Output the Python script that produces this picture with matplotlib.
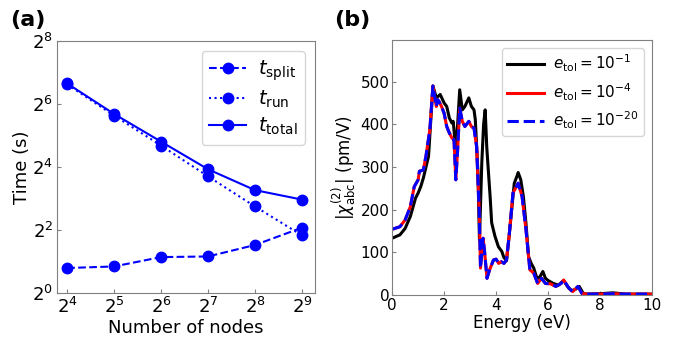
import matplotlib

matplotlib.use("Agg")
import matplotlib.pyplot as plt

# ---- panel (a): timing vs number of nodes ----
nodes = [16, 32, 64, 128, 256, 512]
t_split = [1.73, 1.79, 2.20, 2.23, 2.87, 4.20]
t_run = [98.5, 49.5, 25.6, 13.0, 6.7, 3.55]
t_total = [100.4, 51.3, 27.9, 15.2, 9.6, 7.8]
x_ticks = [4, 5, 6, 7, 8, 9]
y_ticks = [0, 2, 4, 6, 8]

# ---- panel (b): |chi2| spectra for three tolerances ----
e_black = [0.0, 0.3, 0.5, 0.7, 0.9, 1.0, 1.1, 1.2, 1.4, 1.57, 1.7, 1.85, 2.0, 2.1,
           2.2, 2.3, 2.35, 2.45, 2.52, 2.6, 2.7, 2.8, 2.95, 3.05, 3.15, 3.2, 3.3, 3.36,
           3.45, 3.52, 3.58, 3.64, 3.7, 3.77, 3.83, 3.96, 4.09, 4.22, 4.3, 4.4,
           4.5, 4.6, 4.7, 4.8, 4.85, 4.95, 5.05, 5.15, 5.25, 5.35, 5.45, 5.55, 5.65,
           5.8, 5.9, 6.0, 6.2, 6.4, 6.6, 6.75, 6.9, 7.05, 7.2, 7.35, 7.5, 8.0, 8.5,
           9.0, 10.0]
chi_black = [133, 141, 156, 184, 227, 239, 254, 274, 325, 490, 462, 470, 450, 442,
             415, 403, 407, 340, 400, 481, 434, 442, 462, 442, 434, 411, 290, 129,
             310, 400, 434, 348, 293, 231, 169, 137, 113, 102, 88, 80,
             137, 200, 262, 278, 287, 270, 231, 168, 90, 74, 63, 43, 39,
             55, 39, 34, 27, 23, 34, 20, 10, 13, 20, 4, 2, 3, 5,
             2, 2]

e_conv = [0.0, 0.3, 0.5, 0.7, 0.85, 1.0, 1.05, 1.2, 1.3, 1.45, 1.57, 1.7, 1.75, 1.8,
          1.9, 2.0, 2.1, 2.2, 2.3, 2.38, 2.45, 2.52, 2.6, 2.7, 2.8, 2.95, 3.05, 3.15,
          3.25, 3.35, 3.4, 3.5, 3.55, 3.65, 3.75, 3.9, 4.0, 4.1, 4.2, 4.3, 4.4, 4.5,
          4.65, 4.85, 5.0, 5.15, 5.3, 5.45, 5.6, 5.75, 5.9, 6.1, 6.3, 6.5, 6.6, 6.8,
          6.95, 7.15, 7.3, 7.5, 8.0, 8.5, 9.0, 10.0]
chi_conv = [154, 160, 176, 207, 254, 270, 290, 293, 325, 387, 490, 442, 458, 454,
            442, 426, 395, 380, 368, 364, 270, 340, 438, 407, 395, 407, 395, 391,
            348, 200, 63, 133, 106, 39, 59, 82, 84, 74, 78, 74, 82, 137,
            239, 262, 231, 153, 59, 51, 27, 39, 27, 26, 20, 27, 35, 16,
            8, 20, 4, 2, 2, 3, 2, 2]

_BLUE = "#0000ff"
_GRAY = "#808080"

fig = plt.figure(figsize=(6.82, 3.41), dpi=100)
ax1 = fig.add_axes([0.084, 0.141, 0.378, 0.739])
ax2 = fig.add_axes([0.575, 0.135, 0.381, 0.748])

# (a)
ax1.plot(nodes, t_split, "--o", color=_BLUE, lw=1.5, ms=7.5, label=r"$t_{\rm split}$")
ax1.plot(nodes, t_run, ":o", color=_BLUE, lw=1.5, ms=7.5, label=r"$t_{\rm run}$")
ax1.plot(nodes, t_total, "-o", color=_BLUE, lw=1.5, ms=7.5, label=r"$t_{\rm total}$")
ax1.set_xscale("log", base=2)
ax1.set_yscale("log", base=2)
ax1.set_xlim(2 ** 3.79, 2 ** 9.28)
ax1.set_ylim(1, 256)
ax1.set_xticks([2 ** k for k in x_ticks])
ax1.set_xticklabels([rf"$2^{{{k}}}$" for k in x_ticks])
ax1.set_yticks([2 ** k for k in y_ticks])
ax1.set_yticklabels([rf"$2^{{{k}}}$" for k in y_ticks])
ax1.minorticks_off()
ax1.tick_params(direction="in", labelsize=13, length=3, color=_GRAY, pad=3)
ax1.set_xlabel("Number of nodes", fontsize=13, labelpad=1)
ax1.set_ylabel("Time (s)", fontsize=13, labelpad=1)
ax1.legend(loc="upper right", fontsize=14, handlelength=1.9, borderpad=0.4,
           labelspacing=0.3, handletextpad=0.6)

# (b)
ax2.plot(e_black, chi_black, "-", color="black", lw=2.2, label=r"$e_{\rm tol}=10^{-1}$")
ax2.plot(e_conv, chi_conv, "-", color="red", lw=2.2, label=r"$e_{\rm tol}=10^{-4}$")
ax2.plot(e_conv, chi_conv, "--", color=_BLUE, lw=2.2, label=r"$e_{\rm tol}=10^{-20}$")
ax2.set_xlim(0, 10)
ax2.set_ylim(0, 598)
ax2.set_xticks([0, 2, 4, 6, 8, 10])
ax2.set_yticks([0, 100, 200, 300, 400, 500])
ax2.tick_params(direction="in", labelsize=11, length=3, color=_GRAY, pad=2)
ax2.set_xlabel("Energy (eV)", fontsize=12, labelpad=1)
ax2.set_ylabel(r"$|\chi^{(2)}_{\rm abc}|$ (pm/V)", fontsize=12, labelpad=2)
ax2.legend(loc="upper right", fontsize=11, handlelength=2.4, borderpad=0.35,
           labelspacing=0.45, handletextpad=0.6, bbox_to_anchor=(0.97, 0.97),
           borderaxespad=0)

for ax in (ax1, ax2):
    for sp in ax.spines.values():
        sp.set_color(_GRAY)

fig.text(0.015, 0.925, "(a)", fontsize=16, fontweight="bold")
fig.text(0.49, 0.925, "(b)", fontsize=16, fontweight="bold")

fig.savefig("out.png", dpi=100)
